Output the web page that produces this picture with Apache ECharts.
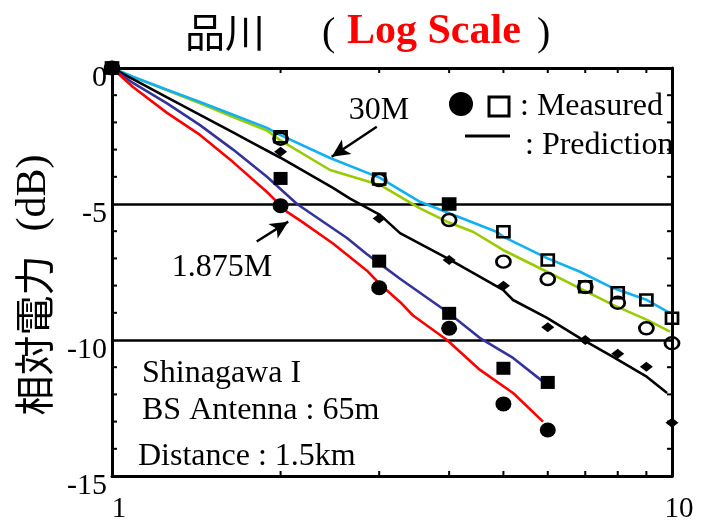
<!DOCTYPE html>
<html><head><meta charset="utf-8">
<script src="https://cdn.jsdelivr.net/npm/echarts@6/dist/echarts.min.js"></script>
<style>html,body{margin:0;padding:0;background:#fff}#c{width:702px;height:523px}</style>
</head><body><div id="c"></div>
<script>
// ---- data ----
const distances = [1, 2, 3, 4, 5, 6, 7, 8, 9, 10];
const measOpenSquare = [0, -2.53, -4.08, -5.0, -6.02, -7.06, -8.04, -8.26, -8.53, -9.2];
const measOpenCircle = [0, -2.6, -4.12, -5.59, -7.12, -7.76, -8.05, -8.63, -9.57, -10.12];
const measDiamond = [0, -3.08, -5.53, -7.06, -8.01, -9.53, -10.0, -10.51, -10.98, -13.04];
const measFilledSquare = [0, -4.06, -7.1, -9.02, -11.04, -11.56];
const measFilledCircle = [0, -5.06, -8.08, -9.57, -12.35, -13.31];

const predCyan = [[1, 0], [1.09, -0.32], [1.254, -0.8], [1.436, -1.25], [1.645, -1.72], [1.891, -2.2], [1.995, -2.46], [2.451, -3.31], [3.01, -4.04], [3.548, -4.92], [4.87, -6.03], [4.992, -6.2], [5.982, -6.99], [6.85, -7.49], [7.846, -8.09], [9.024, -8.53], [9.918, -9.01]];
const predGreen = [[1, 0], [1.09, -0.33], [1.254, -0.82], [1.436, -1.3], [1.645, -1.8], [1.891, -2.3], [1.995, -2.65], [2.451, -3.75], [3.01, -4.3], [3.548, -5.16], [3.965, -5.65], [4.412, -6.02], [4.992, -6.69], [5.982, -7.49], [6.85, -8.1], [7.846, -8.71], [9.024, -9.26], [9.918, -9.69]];
const predBlack = [[1, 0], [1.09, -0.41], [1.254, -1.08], [1.436, -1.72], [1.645, -2.37], [1.785, -2.76], [1.995, -3.29], [2.481, -4.41], [2.661, -4.8], [3.01, -5.4], [3.268, -6.07], [3.965, -6.99], [4.992, -8.16], [5.202, -8.53], [5.982, -9.19], [6.85, -9.93], [7.846, -10.62], [9.024, -11.36], [9.8, -11.95]];
const predNavy = [[1, 0], [1.09, -0.55], [1.254, -1.3], [1.436, -2.1], [1.645, -3.0], [1.891, -4.0], [2.14, -5.0], [2.628, -6.25], [2.853, -6.85], [3.01, -7.2], [3.268, -7.75], [3.965, -8.96], [4.541, -9.93], [5.202, -10.66], [5.884, -11.53]];
const predRed = [[1, 0], [1.09, -0.7], [1.254, -1.65], [1.436, -2.46], [1.645, -3.46], [1.891, -4.56], [2.054, -5.29], [2.166, -5.6], [2.481, -6.45], [2.853, -7.45], [3.01, -7.95], [3.268, -8.6], [3.448, -9.1], [3.965, -10.0], [4.541, -11.1], [5.202, -11.95], [5.884, -13.0]];

const xMinorTicks = [2, 3, 4, 5, 6, 7, 8, 9];
const yMinorTicks = [-1, -2, -3, -4, -6, -7, -8, -9, -11, -12, -13, -14];
const arrow30M = [[2.97, -2.16], [2.468, -3.26]];
const arrow1875M = [[1.813, -6.38], [2.064, -5.65]];

// ---- chart ----
const serif = '"Liberation Serif", "Times New Roman", serif';
const cjk = '"Noto Sans CJK JP", "Noto Sans", sans-serif';
const chart = echarts.init(document.getElementById('c'), null, { renderer: 'canvas' });

function pairs(ys) { return ys.map((y, i) => [distances[i], y]); }
function lineSeries(data, color, extra) {
  return Object.assign({
    type: 'line', data: data, showSymbol: false, symbol: 'none', silent: true,
    lineStyle: { color: color, width: 2.6 }, z: 2
  }, extra || {});
}
function arrowLine(a) {
  return [{ coord: a[0] }, { coord: a[1] }];
}

const openSq = pairs(measOpenSquare).map((p, i) => i === 3 ? { value: p, itemStyle: { color: '#000' } } : p);

const option = {
  animation: false,
  backgroundColor: '#fff',
  grid: { left: 112, right: 30, top: 68, bottom: 47, containLabel: false, outerBoundsMode: 'none' },
  xAxis: [
    {
      type: 'log', logBase: 10, min: 1, max: 10, position: 'bottom',
      axisLine: { show: true, onZero: false, lineStyle: { color: '#000', width: 3 } },
      axisTick: { show: false }, splitLine: { show: false }, minorTick: { show: false },
      axisLabel: { show: true, color: '#000', fontFamily: serif, fontSize: 29, margin: 19, padding: [0, 0, 0, 14], showMinLabel: true, showMaxLabel: true }
    },
    {
      type: 'log', logBase: 10, min: 1, max: 10, position: 'top',
      axisLine: { show: true, onZero: false, lineStyle: { color: '#000', width: 3 } },
      axisTick: { show: false }, splitLine: { show: false }, axisLabel: { show: false }
    }
  ],
  yAxis: [
    {
      type: 'value', min: -15, max: 0, interval: 5, position: 'left',
      axisLine: { show: true, onZero: false, lineStyle: { color: '#000', width: 3 } },
      axisTick: { show: false },
      splitLine: { show: true, lineStyle: { color: '#000', width: 2.6 } },
      axisLabel: {
        color: '#000', margin: 5,
        formatter: '{v|{value}}',
        rich: { v: { fontFamily: serif, fontSize: 30, color: '#000', padding: [21, 0, 0, 0] } }
      }
    },
    {
      type: 'value', min: -15, max: 0, interval: 5, position: 'right',
      axisLine: { show: true, onZero: false, lineStyle: { color: '#000', width: 3 } },
      axisTick: { show: false }, splitLine: { show: false }, axisLabel: { show: false }
    }
  ],
  series: [
    {
      type: 'custom', coordinateSystem: 'cartesian2d', silent: true, clip: false, z: 5,
      data: xMinorTicks.map(v => [v, -15]),
      renderItem: function (params, api) {
        const v = api.value(0);
        const b = api.coord([v, -15]), t = api.coord([v, 0]);
        return { type: 'group', children: [
          { type: 'line', shape: { x1: b[0], y1: b[1], x2: b[0], y2: b[1] - 5 }, style: { stroke: '#000', lineWidth: 2 } },
          { type: 'line', shape: { x1: t[0], y1: t[1], x2: t[0], y2: t[1] + 5 }, style: { stroke: '#000', lineWidth: 2 } }
        ] };
      }
    },
    {
      type: 'custom', coordinateSystem: 'cartesian2d', silent: true, clip: false, z: 5,
      data: yMinorTicks.map(v => [1, v]),
      renderItem: function (params, api) {
        const v = api.value(1);
        const l = api.coord([1, v]), r = api.coord([10, v]);
        return { type: 'group', children: [
          { type: 'line', shape: { x1: l[0], y1: l[1], x2: l[0] + 5, y2: l[1] }, style: { stroke: '#000', lineWidth: 2 } },
          { type: 'line', shape: { x1: r[0], y1: r[1], x2: r[0] - 5, y2: r[1] }, style: { stroke: '#000', lineWidth: 2 } }
        ] };
      }
    },
    lineSeries(predGreen, '#99cc00'),
    lineSeries(predCyan, '#12b0f0', {
      markLine: {
        silent: true, symbol: ['none', 'arrow'], symbolSize: [13, 18], label: { show: false },
        lineStyle: { color: '#000', width: 2.5, type: 'solid' }, itemStyle: { color: '#000' },
        data: [arrowLine(arrow30M), arrowLine(arrow1875M)]
      }
    }),
    lineSeries(predBlack, '#000000'),
    lineSeries(predNavy, '#333399'),
    lineSeries(predRed, '#ff0000'),
    {
      type: 'scatter', data: pairs(measOpenCircle), symbol: 'circle', symbolSize: [14, 12], z: 4,
      itemStyle: { color: 'rgba(0,0,0,0)', borderColor: '#000', borderWidth: 2.6, opacity: 1 }
    },
    {
      type: 'scatter', data: openSq, symbol: 'rect', symbolSize: [12, 11], z: 4,
      itemStyle: { color: 'rgba(0,0,0,0)', borderColor: '#000', borderWidth: 2.6, opacity: 1 }
    },
    {
      type: 'scatter', data: pairs(measDiamond), symbol: 'diamond', symbolSize: [13, 10], z: 4,
      itemStyle: { color: '#000', opacity: 1 }
    },
    {
      type: 'scatter', data: pairs(measFilledCircle), symbol: 'circle', symbolSize: [16, 15], z: 4,
      itemStyle: { color: '#000', opacity: 1 }
    },
    {
      type: 'scatter', data: pairs(measFilledSquare), symbol: 'rect', symbolSize: [14, 13], z: 4,
      itemStyle: { color: '#000', opacity: 1 }
    }
  ],
  graphic: [
    { type: 'text', z: 10, style: { text: '品川', x: 185, y: 32, fill: '#000', fontFamily: cjk, fontSize: 40, align: 'left', verticalAlign: 'middle' } },
    { type: 'text', z: 10, style: { text: '(', x: 322, y: 34, fill: '#000', fontFamily: serif, fontSize: 40, align: 'left', verticalAlign: 'middle' } },
    { type: 'text', z: 10, style: { text: 'Log Scale', x: 347, y: 32, fill: '#ff0000', fontFamily: serif, fontWeight: 'bold', fontSize: 42, align: 'left', verticalAlign: 'middle' } },
    { type: 'text', z: 10, style: { text: ')', x: 537, y: 34, fill: '#000', fontFamily: serif, fontSize: 40, align: 'left', verticalAlign: 'middle' } },
    {
      type: 'text', z: 10, x: 34, y: 285, rotation: Math.PI / 2,
      style: {
        text: '{a|相対電力}{s| }{b|(dB)}', align: 'center', verticalAlign: 'middle',
        rich: {
          a: { fontFamily: cjk, fontSize: 40, fill: '#000' },
          s: { fontFamily: serif, fontSize: 40, width: 24 },
          b: { fontFamily: serif, fontSize: 42, fill: '#000' }
        }
      }
    },
    { type: 'text', z: 10, style: { text: '30M', x: 379, y: 111, fill: '#000', fontFamily: serif, fontSize: 32, align: 'center', verticalAlign: 'middle' } },
    { type: 'text', z: 10, style: { text: '1.875M', x: 222, y: 268, fill: '#000', fontFamily: serif, fontSize: 32, align: 'center', verticalAlign: 'middle' } },
    { type: 'circle', z: 10, shape: { cx: 461, cy: 104, r: 12 }, style: { fill: '#000' } },
    { type: 'rect', z: 10, shape: { x: 489, y: 97, width: 20, height: 19 }, style: { fill: 'none', stroke: '#000', lineWidth: 3 } },
    { type: 'text', z: 10, style: { text: ': Measured', x: 520, y: 107, fill: '#000', fontFamily: serif, fontSize: 32, align: 'left', verticalAlign: 'middle' } },
    { type: 'line', z: 10, shape: { x1: 465, y1: 136, x2: 510, y2: 136 }, style: { stroke: '#000', lineWidth: 3 } },
    { type: 'text', z: 10, style: { text: ': Prediction', x: 525, y: 146, fill: '#000', fontFamily: serif, fontSize: 32, align: 'left', verticalAlign: 'middle' } },
    { type: 'text', z: 10, style: { text: 'Shinagawa I', x: 142, y: 374, fill: '#000', fontFamily: serif, fontSize: 32, align: 'left', verticalAlign: 'middle' } },
    { type: 'text', z: 10, style: { text: 'BS Antenna : 65m', x: 142, y: 411, fill: '#000', fontFamily: serif, fontSize: 32, align: 'left', verticalAlign: 'middle' } },
    { type: 'text', z: 10, style: { text: 'Distance : 1.5km', x: 138, y: 457, fill: '#000', fontFamily: serif, fontSize: 32, align: 'left', verticalAlign: 'middle' } }
  ]
};
chart.setOption(option);
</script>
</body></html>
